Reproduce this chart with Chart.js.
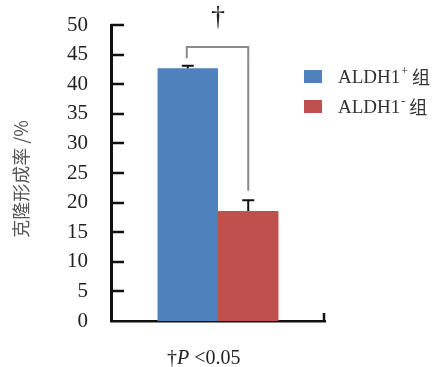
<!DOCTYPE html>
<html>
<head>
<meta charset="utf-8">
<script src="https://cdn.jsdelivr.net/npm/chart.js@4"></script>
<style>
  body { margin: 0; background: #fff; }
</style>
</head>
<body>
<canvas id="grafico" width="436" height="367"></canvas>
<script>
// dados
const grupos = ['ALDH1', 'ALDH1'];
const sobrescritos = ['+', '-'];
const valores = [42.7, 18.6];
const erros = [0.4, 1.8];
const cores = ['#4f81bd', '#c0504d'];
const yTicks = [0, 5, 10, 15, 20, 25, 30, 35, 40, 45, 50];
// colchete de significância (valores no eixo y)
const colcheteTopo = 46.3;
const colcheteEsq = 44.4;
const colcheteDir = 22.0;

const SERIF = '"Liberation Serif", "DejaVu Serif", serif';
const CJK = '"Noto Sans CJK SC", sans-serif';

const extras = {
    id: 'extras',
    afterDatasetsDraw(chart) {
        const c = chart.ctx;
        const y = chart.scales.y;
        const area = chart.chartArea;

        // marcas do eixo y voltadas para dentro
        c.save();
        c.strokeStyle = '#111';
        c.lineWidth = 2.5;
        yTicks.forEach(v => {
            if (v === 0) return;
            const py = Math.round(y.getPixelForValue(v));
            c.beginPath();
            c.moveTo(area.left, py);
            c.lineTo(area.left + 13, py);
            c.stroke();
        });
        // pequena marca no fim do eixo x
        c.beginPath();
        c.moveTo(area.right - 1, area.bottom);
        c.lineTo(area.right - 1, area.bottom - 8);
        c.stroke();

        // barras de erro
        const centros = [];
        chart.data.datasets.forEach((ds, i) => {
            const bar = chart.getDatasetMeta(i).data[0];
            centros.push(bar.x);
            const top = y.getPixelForValue(valores[i] + erros[i]);
            const base = y.getPixelForValue(valores[i]);
            c.strokeStyle = '#111';
            c.lineWidth = 2;
            c.beginPath();
            c.moveTo(bar.x, base);
            c.lineTo(bar.x, top);
            c.moveTo(bar.x - 6, top);
            c.lineTo(bar.x + 6, top);
            c.stroke();
        });

        // colchete
        c.strokeStyle = '#8a8a8a';
        c.lineWidth = 2;
        c.beginPath();
        c.moveTo(centros[0] - 1, y.getPixelForValue(colcheteEsq));
        c.lineTo(centros[0] - 1, y.getPixelForValue(colcheteTopo));
        c.lineTo(centros[1], y.getPixelForValue(colcheteTopo));
        c.lineTo(centros[1], y.getPixelForValue(colcheteDir));
        c.stroke();

        c.fillStyle = '#222';
        c.font = '28px ' + SERIF;
        c.textAlign = 'center';
        c.textBaseline = 'alphabetic';
        c.fillText('†', (centros[0] + centros[1]) / 2, 25);

        // legenda
        c.textAlign = 'left';
        grupos.forEach((g, i) => {
            const ly = 70 + i * 30;
            c.fillStyle = cores[i];
            c.fillRect(304, ly, 18, 13);
            c.fillStyle = '#333';
            c.font = '19px ' + SERIF;
            c.fillText(g, 338, ly + 13);
            let x = 338 + c.measureText(g).width + 1;
            c.font = '12px ' + SERIF;
            c.fillText(sobrescritos[i], x, ly + 5);
            x += c.measureText(sobrescritos[i]).width + 4;
            c.font = '18px ' + CJK;
            c.fillText('组', x, ly + 14);
        });

        // nota de rodapé
        let fx = 167;
        const fy = 364;
        c.fillStyle = '#222';
        c.font = '20px ' + SERIF;
        c.fillText('†', fx, fy);
        fx += c.measureText('†').width;
        c.font = 'italic 20px ' + SERIF;
        c.fillText('P', fx, fy);
        fx += c.measureText('P ').width;
        c.font = '20px ' + SERIF;
        c.fillText('<0.05', fx, fy);

        // título do eixo y
        c.translate(21, 179);
        c.rotate(-Math.PI / 2);
        c.textAlign = 'center';
        c.textBaseline = 'middle';
        c.fillStyle = '#555';
        c.font = '18px ' + CJK;
        c.fillText('克隆形成率 /%', 0, 0);
        c.restore();
    }
};

const grafico = new Chart(document.getElementById('grafico'), {
    type: 'bar',
    data: {
        labels: [''],
        datasets: grupos.map((g, i) => ({
            label: g + sobrescritos[i] + ' 组',
            data: [valores[i]],
            backgroundColor: cores[i],
            barPercentage: 1,
            categoryPercentage: 0.565
        }))
    },
    options: {
        responsive: false,
        animation: false,
        layout: { padding: { left: 0, right: 111, top: 25, bottom: 0 } },
        plugins: {
            legend: { display: false },
            tooltip: { enabled: false }
        },
        scales: {
            x: {
                grid: { display: false },
                ticks: { display: false },
                border: { color: '#111', width: 2.5 },
                afterFit(scale) { scale.height = 46; }
            },
            y: {
                min: 0,
                max: 50,
                afterBuildTicks(scale) { scale.ticks = yTicks.map(v => ({ value: v })); },
                grid: { display: false },
                border: { color: '#111', width: 3 },
                ticks: {
                    padding: 15,
                    color: '#222',
                    font: { family: SERIF, size: 21 }
                },
                afterFit(scale) {
                    scale.width = 111;
                    scale.paddingTop = 0;
                    scale.paddingBottom = 0;
                }
            }
        }
    },
    plugins: [extras]
});
</script>
</body>
</html>
